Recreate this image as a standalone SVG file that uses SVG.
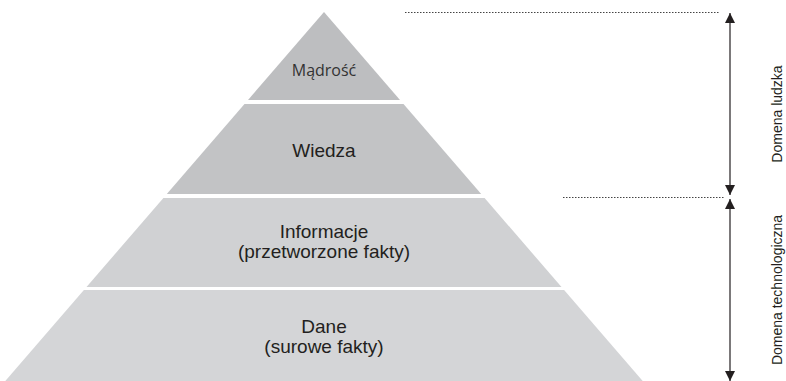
<svg xmlns="http://www.w3.org/2000/svg" width="786" height="381" viewBox="0 0 786 381">
<defs>
<style>
.lbl{font-family:"Liberation Sans",Arial,sans-serif;font-size:19px;fill:#231f20;text-anchor:middle}
.top{font-family:"Open Sans","Noto Sans",sans-serif;font-size:16px;fill:#333;text-anchor:middle}
.side{font-family:"Liberation Sans",Arial,sans-serif;font-size:14px;fill:#231f20;text-anchor:middle}
.dot{stroke:#444;stroke-width:1;stroke-dasharray:1.5 1.5;fill:none}
.axis{stroke:#231f20;stroke-width:1.2;fill:none}
</style>
<marker id="ah" viewBox="0 0 10 10" refX="10" refY="5" markerWidth="10" markerHeight="10" markerUnits="userSpaceOnUse" orient="auto-start-reverse">
<path d="M0,0 L10,5 L0,10 Z" fill="#231f20"/>
</marker>
</defs>
<rect width="786" height="381" fill="#fff"/>
<g id="madrosc">
<polygon points="324,12 400,100 248,100" fill="#bdbec0"/>
<text class="top" x="324" y="76">Mądrość</text>
</g>
<g id="wiedza">
<polygon points="244.5,104 403.5,104 481.2,194 166.8,194" fill="#c2c3c5"/>
<text class="lbl" x="324" y="157">Wiedza</text>
</g>
<g id="informacje">
<polygon points="163.4,198 484.6,198 561.5,287 86.5,287" fill="#d0d1d3"/>
<text class="lbl" x="324" y="238">Informacje</text>
<text class="lbl" x="324" y="258">(przetworzone fakty)</text>
</g>
<g id="dane">
<polygon points="83.9,290 564.1,290 642.7,381 5.3,381" fill="#d4d5d7"/>
<text class="lbl" x="324" y="333">Dane</text>
<text class="lbl" x="324" y="353">(surowe fakty)</text>
</g>
<g id="connectors">
<line class="dot" x1="405" y1="12.5" x2="720" y2="12.5"/>
<line class="dot" x1="563" y1="197.5" x2="724" y2="197.5"/>
<line class="axis" x1="730" y1="13" x2="730" y2="195" marker-start="url(#ah)" marker-end="url(#ah)"/>
<line class="axis" x1="730" y1="199" x2="730" y2="381" marker-start="url(#ah)" marker-end="url(#ah)"/>
</g>
<g id="labels">
<text class="side" transform="translate(782,114) rotate(-90)">Domena ludzka</text>
<text class="side" transform="translate(782,290) rotate(-90)">Domena technologiczna</text>
</g>
</svg>
